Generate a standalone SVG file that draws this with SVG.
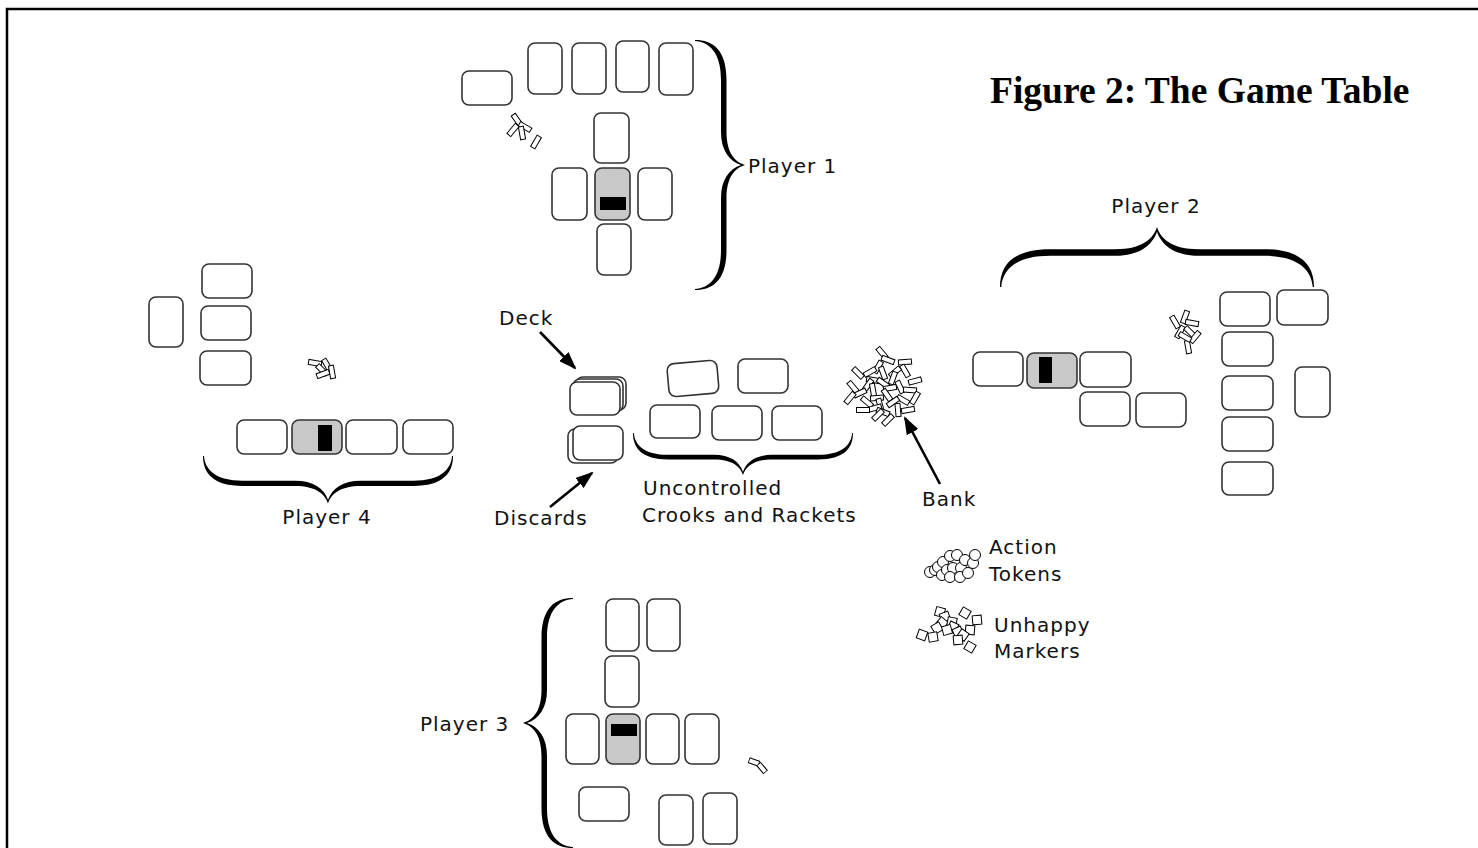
<svg xmlns="http://www.w3.org/2000/svg" xmlns:xlink="http://www.w3.org/1999/xlink" width="1478" height="848" viewBox="0 0 1478 848">
<style>
.c{fill:#fff;stroke:#333;stroke-width:1.6}
.g{fill:#c8c8c8;stroke:#333;stroke-width:1.6}
.bar{fill:#000}
.t{font-family:"DejaVu Sans",sans-serif;font-size:20px;letter-spacing:1px;fill:#111}
.br{fill:#000}
.ar{stroke:#000;stroke-width:2.6;fill:none}
.tk{fill:#fff;stroke:#000;stroke-width:1}
</style>
<defs>
<path id="brace" d="M0,0 C0,-18 10,-31.5 40,-31.5 L92,-31.5 C113,-31.5 122,-40 125,-50 C128,-40 137,-31.5 158,-31.5 L210,-31.5 C240,-31.5 250,-18 250,0 L249,0 C248,-14 238,-26 210,-26 L158,-26 C140,-26 129,-34 125,-46 C121,-34 110,-26 92,-26 L40,-26 C12,-26 2,-14 1,0 Z"/>
<rect id="tok" class="tk" x="-6.5" y="-2.5" width="13" height="5"/>
<rect id="sq" class="tk" x="-4.5" y="-4.5" width="9" height="9"/>
<marker id="ah" viewBox="0 0 18 13" refX="16" refY="6.5" markerWidth="18" markerHeight="13" orient="auto" markerUnits="userSpaceOnUse">
<path d="M0,0 L18,6.5 L0,13 Z" fill="#000"/>
</marker>
</defs>
<rect width="1478" height="848" fill="#fff"/>
<path d="M7,848 V9 H1478" fill="none" stroke="#000" stroke-width="2.5"/>
<text x="990" y="103" font-family="'Liberation Serif',serif" font-weight="bold" font-size="37.5">Figure 2: The Game Table</text>

<g id="player1">
<rect class="c" x="462" y="71" width="50" height="34" rx="7"/>
<rect class="c" x="528" y="43" width="34" height="51" rx="7"/>
<rect class="c" x="572" y="43" width="34" height="51" rx="7"/>
<rect class="c" x="616" y="41" width="33" height="51" rx="7"/>
<rect class="c" x="659" y="43" width="34" height="52" rx="7"/>
<rect class="c" x="594" y="113" width="35" height="50" rx="7"/>
<rect class="c" x="552" y="168" width="35" height="52" rx="7"/>
<rect class="g" x="595" y="168" width="35" height="52" rx="7"/>
<rect class="bar" x="600" y="197" width="26" height="13"/>
<rect class="c" x="638" y="168" width="34" height="52" rx="7"/>
<rect class="c" x="597" y="224" width="34" height="51" rx="7"/>
<use xlink:href="#tok" transform="translate(517,120) rotate(55)"/>
<use xlink:href="#tok" transform="translate(525,127) rotate(30)"/>
<use xlink:href="#tok" transform="translate(513,130) rotate(-50)"/>
<use xlink:href="#tok" transform="translate(522,133) rotate(80)"/>
<use xlink:href="#tok" transform="translate(536,142) rotate(-60)"/>
<use xlink:href="#brace" class="br" transform="translate(695,40) rotate(90)"/>
<text class="t" x="748" y="173">Player 1</text>
</g>

<g id="player2">
<use xlink:href="#brace" class="br" transform="translate(1000,287) scale(1.256,1.2)"/>
<text class="t" x="1156" y="213" text-anchor="middle">Player 2</text>
<rect class="c" x="973" y="352" width="50" height="34" rx="7"/>
<rect class="g" x="1027" y="353" width="50" height="35" rx="7"/>
<rect class="bar" x="1039" y="357" width="13" height="26"/>
<rect class="c" x="1080" y="352" width="51" height="35" rx="7"/>
<rect class="c" x="1080" y="392" width="50" height="34" rx="7"/>
<rect class="c" x="1136" y="393" width="50" height="34" rx="7"/>
<rect class="c" x="1220" y="292" width="50" height="34" rx="7"/>
<rect class="c" x="1277" y="290" width="51" height="35" rx="7"/>
<rect class="c" x="1222" y="332" width="51" height="34" rx="7"/>
<rect class="c" x="1222" y="376" width="51" height="34" rx="7"/>
<rect class="c" x="1222" y="417" width="51" height="34" rx="7"/>
<rect class="c" x="1222" y="462" width="51" height="33" rx="7"/>
<rect class="c" x="1295" y="367" width="35" height="50" rx="7"/>
<use xlink:href="#tok" transform="translate(1175,322) rotate(60)"/>
<use xlink:href="#tok" transform="translate(1185,317) rotate(-70)"/>
<use xlink:href="#tok" transform="translate(1192,323) rotate(10)"/>
<use xlink:href="#tok" transform="translate(1180,332) rotate(-60)"/>
<use xlink:href="#tok" transform="translate(1190,332) rotate(45)"/>
<use xlink:href="#tok" transform="translate(1195,337) rotate(-50)"/>
<use xlink:href="#tok" transform="translate(1188,347) rotate(80)"/>
<use xlink:href="#tok" transform="translate(1185,337) rotate(30)"/>
</g>

<g id="player4">
<rect class="c" x="149" y="297" width="34" height="50" rx="7"/>
<rect class="c" x="202" y="264" width="50" height="34" rx="7"/>
<rect class="c" x="201" y="306" width="50" height="34" rx="7"/>
<rect class="c" x="200" y="351" width="51" height="34" rx="7"/>
<rect class="c" x="237" y="420" width="50" height="34" rx="7"/>
<rect class="g" x="292" y="420" width="50" height="34" rx="7"/>
<rect class="bar" x="318" y="425" width="14" height="26"/>
<rect class="c" x="346" y="420" width="51" height="34" rx="7"/>
<rect class="c" x="403" y="420" width="50" height="34" rx="7"/>
<use xlink:href="#tok" transform="translate(315,363) rotate(10)"/>
<use xlink:href="#tok" transform="translate(327,365) rotate(60)"/>
<use xlink:href="#tok" transform="translate(322,370) rotate(45)"/>
<use xlink:href="#tok" transform="translate(323,374) rotate(-20)"/>
<use xlink:href="#tok" transform="translate(332,372) rotate(80)"/>
<use xlink:href="#brace" class="br" transform="translate(203,456) scale(1,-0.95)"/>
<text class="t" x="327" y="524" text-anchor="middle">Player 4</text>
</g>

<g id="deck">
<rect class="c" x="576" y="377" width="50" height="33" rx="7"/>
<rect class="c" x="573" y="379" width="50" height="33" rx="7"/>
<rect class="c" x="570" y="382" width="50" height="33" rx="7"/>
<text class="t" x="499" y="325">Deck</text>
</g>

<g id="discards">
<rect class="c" x="568" y="429" width="50" height="34" rx="7"/>
<rect class="c" x="573" y="426" width="50" height="34" rx="7"/>
<text class="t" x="494" y="525">Discards</text>
</g>

<g id="uncontrolled">
<rect class="c" x="668" y="362" width="50" height="33" rx="7" transform="rotate(-5 693 379)"/>
<rect class="c" x="738" y="359" width="50" height="34" rx="7"/>
<rect class="c" x="650" y="405" width="50" height="33" rx="7"/>
<rect class="c" x="712" y="406" width="50" height="34" rx="7"/>
<rect class="c" x="772" y="406" width="50" height="34" rx="7"/>
<use xlink:href="#brace" class="br" transform="translate(633,433) scale(0.88,-0.84)"/>
<text class="t" x="643" y="495">Uncontrolled</text>
<text class="t" x="642" y="522">Crooks and Rackets</text>
</g>

<g id="bank">
<use xlink:href="#tok" transform="translate(882,353) rotate(50)"/>
<use xlink:href="#tok" transform="translate(888,360) rotate(20)"/>
<use xlink:href="#tok" transform="translate(905,362) rotate(-5)"/>
<use xlink:href="#tok" transform="translate(878,367) rotate(-60)"/>
<use xlink:href="#tok" transform="translate(905,371) rotate(60)"/>
<use xlink:href="#tok" transform="translate(895,372) rotate(-40)"/>
<use xlink:href="#tok" transform="translate(883,373) rotate(70)"/>
<use xlink:href="#tok" transform="translate(858,373) rotate(45)"/>
<use xlink:href="#tok" transform="translate(870,372) rotate(-30)"/>
<use xlink:href="#tok" transform="translate(873,380) rotate(10)"/>
<use xlink:href="#tok" transform="translate(893,378) rotate(-70)"/>
<use xlink:href="#tok" transform="translate(915,381) rotate(-15)"/>
<use xlink:href="#tok" transform="translate(883,383) rotate(35)"/>
<use xlink:href="#tok" transform="translate(868,385) rotate(-55)"/>
<use xlink:href="#tok" transform="translate(853,387) rotate(50)"/>
<use xlink:href="#tok" transform="translate(890,388) rotate(-10)"/>
<use xlink:href="#tok" transform="translate(900,387) rotate(65)"/>
<use xlink:href="#tok" transform="translate(910,390) rotate(5)"/>
<use xlink:href="#tok" transform="translate(873,390) rotate(80)"/>
<use xlink:href="#tok" transform="translate(860,393) rotate(-25)"/>
<use xlink:href="#tok" transform="translate(887,395) rotate(55)"/>
<use xlink:href="#tok" transform="translate(850,398) rotate(-50)"/>
<use xlink:href="#tok" transform="translate(877,398) rotate(-5)"/>
<use xlink:href="#tok" transform="translate(915,398) rotate(-60)"/>
<use xlink:href="#tok" transform="translate(903,400) rotate(30)"/>
<use xlink:href="#tok" transform="translate(867,402) rotate(40)"/>
<use xlink:href="#tok" transform="translate(893,402) rotate(-35)"/>
<use xlink:href="#tok" transform="translate(880,405) rotate(75)"/>
<use xlink:href="#tok" transform="translate(875,408) rotate(-15)"/>
<use xlink:href="#tok" transform="translate(863,410) rotate(0)"/>
<use xlink:href="#tok" transform="translate(908,410) rotate(-10)"/>
<use xlink:href="#tok" transform="translate(898,410) rotate(85)"/>
<use xlink:href="#tok" transform="translate(883,412) rotate(20)"/>
<use xlink:href="#tok" transform="translate(878,415) rotate(-45)"/>
<use xlink:href="#tok" transform="translate(888,420) rotate(-45)"/>
<text class="t" x="922" y="506">Bank</text>
</g>

<g id="action-tokens">
<g fill="#fff" stroke="#000" stroke-width="1">
<circle cx="930" cy="572" r="5.5"/><circle cx="935" cy="570" r="5.5"/><circle cx="938" cy="567" r="5.5"/>
<circle cx="943" cy="562" r="5.5"/><circle cx="942" cy="575" r="5.5"/><circle cx="947" cy="570" r="5.5"/>
<circle cx="950" cy="556" r="5.5"/><circle cx="957" cy="555" r="5.5"/><circle cx="953" cy="568" r="5.5"/>
<circle cx="950" cy="577" r="5.5"/><circle cx="961" cy="568" r="5.5"/><circle cx="965" cy="560" r="5.5"/>
<circle cx="960" cy="577" r="5.5"/><circle cx="968" cy="573" r="5.5"/><circle cx="973" cy="563" r="5.5"/>
<circle cx="975" cy="555" r="5.5"/>
</g>
<text class="t" x="989" y="554">Action</text>
<text class="t" x="989" y="581">Tokens</text>
</g>

<g id="unhappy-markers">
<use xlink:href="#sq" transform="translate(940,612) rotate(15)"/>
<use xlink:href="#sq" transform="translate(945,617) rotate(-20)"/>
<use xlink:href="#sq" transform="translate(965,613) rotate(30)"/>
<use xlink:href="#sq" transform="translate(977,620) rotate(-5)"/>
<use xlink:href="#sq" transform="translate(942,623) rotate(40)"/>
<use xlink:href="#sq" transform="translate(952,622) rotate(10)"/>
<use xlink:href="#sq" transform="translate(937,628) rotate(-30)"/>
<use xlink:href="#sq" transform="translate(953,627) rotate(25)"/>
<use xlink:href="#sq" transform="translate(947,630) rotate(-15)"/>
<use xlink:href="#sq" transform="translate(970,630) rotate(5)"/>
<use xlink:href="#sq" transform="translate(958,632) rotate(-25)"/>
<use xlink:href="#sq" transform="translate(922,635) rotate(20)"/>
<use xlink:href="#sq" transform="translate(933,637) rotate(-10)"/>
<use xlink:href="#sq" transform="translate(963,635) rotate(35)"/>
<use xlink:href="#sq" transform="translate(958,640) rotate(-5)"/>
<use xlink:href="#sq" transform="translate(970,647) rotate(30)"/>
<text class="t" x="994" y="632">Unhappy</text>
<text class="t" x="994" y="658">Markers</text>
</g>

<g id="player3">
<use xlink:href="#brace" class="br" transform="translate(573,848) rotate(-90)"/>
<text class="t" x="420" y="731">Player 3</text>
<rect class="c" x="606" y="599" width="33" height="52" rx="7"/>
<rect class="c" x="647" y="599" width="33" height="52" rx="7"/>
<rect class="c" x="605" y="656" width="34" height="51" rx="7"/>
<rect class="c" x="566" y="714" width="33" height="50" rx="7"/>
<rect class="g" x="606" y="714" width="34" height="50" rx="7"/>
<rect class="bar" x="611" y="724" width="26" height="12"/>
<rect class="c" x="646" y="714" width="33" height="50" rx="7"/>
<rect class="c" x="685" y="714" width="34" height="50" rx="7"/>
<rect class="c" x="579" y="787" width="50" height="34" rx="7"/>
<rect class="c" x="659" y="795" width="34" height="50" rx="7"/>
<rect class="c" x="703" y="793" width="34" height="51" rx="7"/>
<use xlink:href="#tok" transform="translate(754,762) rotate(20) scale(0.8,1)"/>
<use xlink:href="#tok" transform="translate(762,768) rotate(50) scale(0.8,1)"/>
</g>

<g id="connectors">
<line class="ar" x1="540" y1="332" x2="575" y2="368" marker-end="url(#ah)"/>
<line class="ar" x1="550" y1="507" x2="592" y2="473" marker-end="url(#ah)"/>
<line class="ar" x1="940" y1="484" x2="905" y2="418" marker-end="url(#ah)"/>
</g>
</svg>
